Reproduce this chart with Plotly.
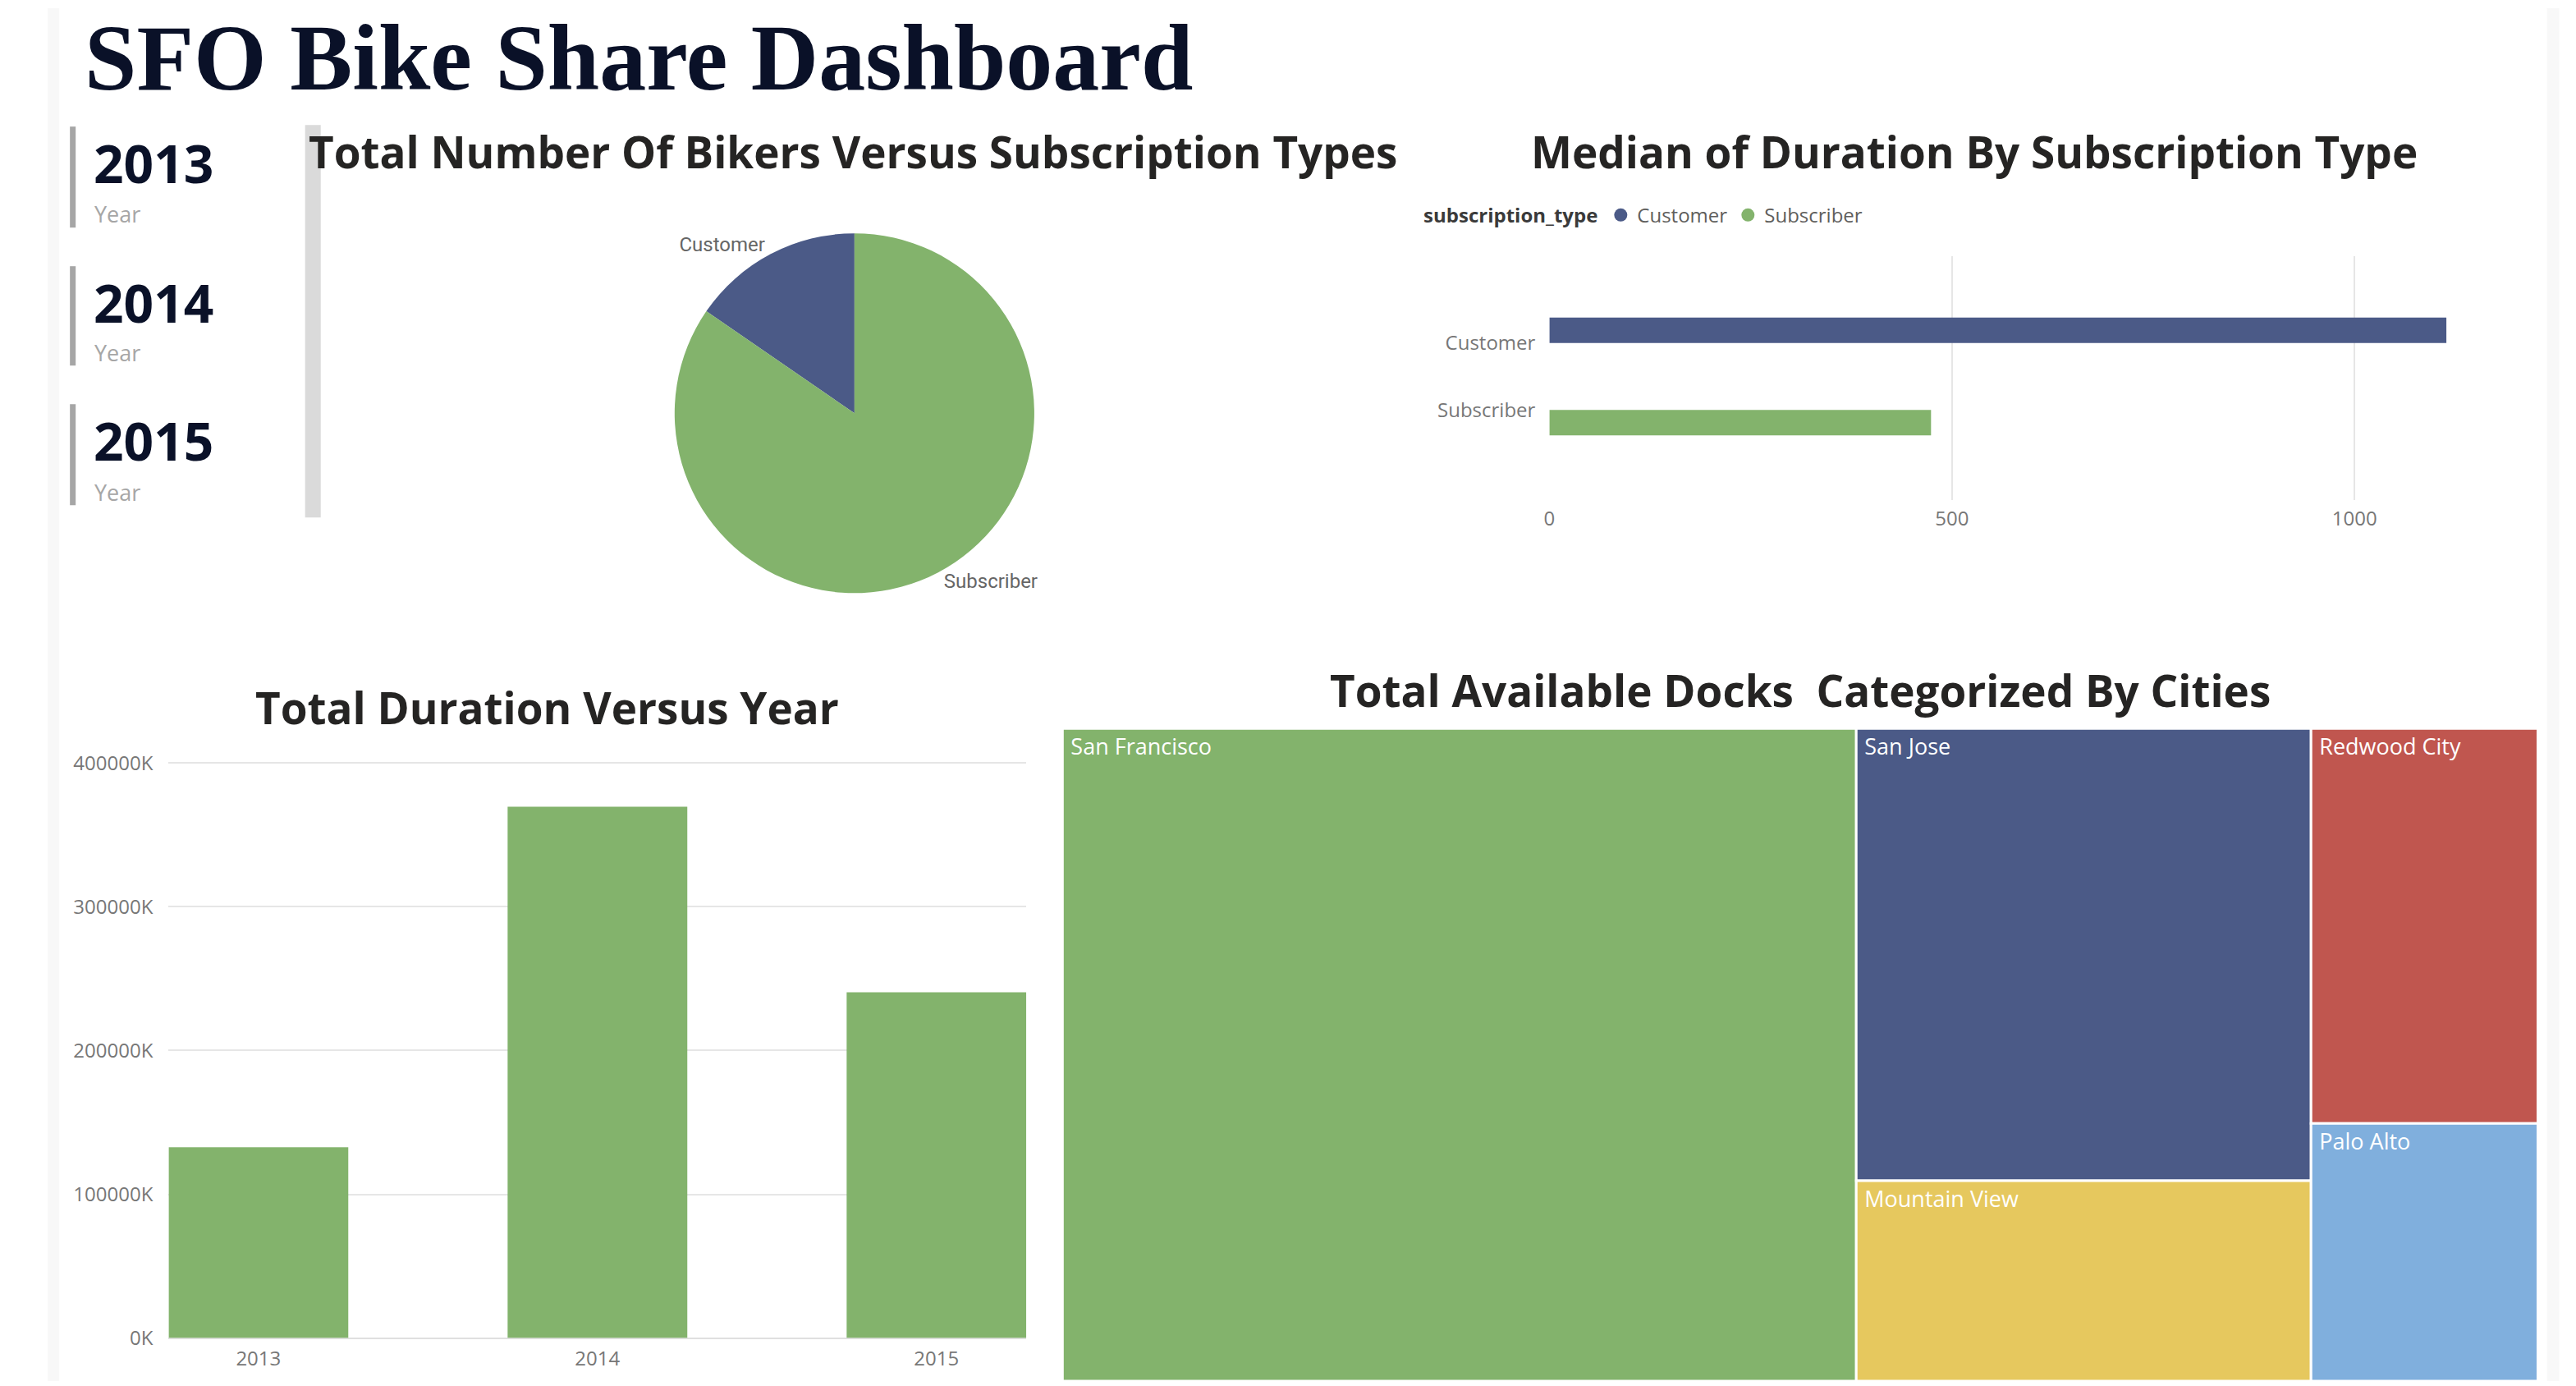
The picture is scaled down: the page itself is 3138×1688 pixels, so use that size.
import plotly.graph_objects as go

W, H = 3138, 1688          # browser window
OFF = 8                    # default body margin of the generated page
SX, SY = 0.996, 0.985      # measured capture scale of the rendered page
FW, FH = 3134, 1697        # figure size

# ---------------- data ----------------
dashboard_title = "SFO Bike Share Dashboard"
years = ["2013", "2014", "2015"]
year_caption = "Year"

sub_types = ["Customer", "Subscriber"]
bikers_count = [103213, 566746]          # total number of bikers per subscription type
median_duration = [1114, 474]            # median trip duration (s)

duration_years = ["2013", "2014", "2015"]
total_duration_k = [132650, 369700, 240600]   # total duration, in thousands
duration_ticks = [0, 100000, 200000, 300000, 400000]
duration_tick_text = ["0K", "100000K", "200000K", "300000K", "400000K"]

cities = ["San Francisco", "San Jose", "Mountain View", "Redwood City", "Palo Alto"]
docks = [665, 264, 117, 115, 75]

# ---------------- styles ----------------
type_colors = {"Customer": "#4b5a87", "Subscriber": "#83b36c"}
city_colors = ["#83b36c", "#4b5a87", "#e6c85e", "#c0564f", "#80afdd"]
TITLE_FONT = dict(family="Open Sans", size=53, color="#252423", weight="bold")
TICK_FONT = dict(family="Open Sans", size=24, color="#777777")


def fx(px):
    return min(1.0, max(0.0, (px / SX - OFF) / FW))


def fy(py):
    return min(1.0, max(0.0, 1 - (py / SY - OFF) / FH))


fig = go.Figure()

# Pie: total number of bikers (first slice ends at 12 o'clock, drawn clockwise)
first_share = bikers_count[0] / sum(bikers_count)
fig.add_trace(go.Pie(
    labels=sub_types, values=bikers_count, sort=False,
    direction="clockwise", rotation=-360 * first_share,
    marker=dict(colors=[type_colors[t] for t in sub_types], line=dict(width=0)),
    textinfo="label", textposition="outside",
    textfont=dict(family="Roboto", size=24, color="#666666"),
    domain=dict(x=[fx(700), fx(1380)], y=[fy(720), fy(282)]),
    showlegend=False, hoverinfo="label+value",
))

# Horizontal bars: median duration
for i, t in enumerate(sub_types):
    fig.add_trace(go.Bar(
        x=[median_duration[i]], y=[t], orientation="h",
        marker=dict(color=type_colors[t], line=dict(width=0)),
        width=0.38, offset=-0.38 if i == 0 else 0.0,
        xaxis="x", yaxis="y", showlegend=False, name=t,
    ))
    fig.add_trace(go.Scatter(
        x=[None], y=[None], mode="markers", name=t,
        marker=dict(symbol="circle", size=20, color=type_colors[t]),
        xaxis="x", yaxis="y", showlegend=True,
    ))

# Columns: total duration per year
fig.add_trace(go.Bar(
    x=duration_years, y=total_duration_k, width=0.53,
    marker=dict(color="#83b36c", line=dict(width=0)),
    xaxis="x2", yaxis="y2", showlegend=False,
))

# Treemap: docks per city
fig.add_trace(go.Treemap(
    labels=cities, parents=[""] * len(cities), values=docks,
    marker=dict(colors=city_colors, line=dict(color="white", width=3),
                pad=dict(t=0, l=0, r=0, b=0)),
    texttemplate="\u00a0%{label}", textposition="top left",
    textfont=dict(family="Open Sans", size=27, color="white"),
    tiling=dict(packing="squarify", squarifyratio=1.618, pad=0),
    pathbar=dict(visible=False), sort=True,
    domain=dict(x=[fx(1293), fx(3087)], y=[fy(1685), fy(885)]),
))

shapes = []
# faint page edges
shapes.append(dict(type="rect", xref="paper", yref="paper", x0=fx(59), x1=fx(73), y0=0, y1=1,
                   fillcolor="#f8f8f8", line=dict(width=0), layer="below"))
shapes.append(dict(type="rect", xref="paper", yref="paper", x0=fx(3098), x1=fx(3113), y0=0, y1=1,
                   fillcolor="#f8f8f8", line=dict(width=0), layer="below"))
# year card accent bars
for top, bot in [(152, 275), (322, 443), (490, 613)]:
    shapes.append(dict(type="rect", xref="paper", yref="paper", x0=fx(86), x1=fx(93),
                       y0=fy(bot), y1=fy(top), fillcolor="#a6a6a6", line=dict(width=0)))
# slicer scroll bar
shapes.append(dict(type="rect", xref="paper", yref="paper", x0=fx(372), x1=fx(391),
                   y0=fy(628), y1=fy(150), fillcolor="#dadada", line=dict(width=0)))

annotations = []
annotations.append(dict(text=dashboard_title, xref="paper", yref="paper", x=fx(102), y=fy(68),
                        xanchor="left", yanchor="middle", showarrow=False,
                        font=dict(family="Liberation Serif", size=114, color="#0a1128", weight="bold")))
for yr, ctr, cap in zip(years, [196, 366, 534], [258, 427, 597]):
    annotations.append(dict(text=yr, xref="paper", yref="paper", x=fx(113), y=fy(ctr),
                            xanchor="left", yanchor="middle", showarrow=False,
                            font=dict(family="Open Sans", size=64, color="#0a1128", weight="bold")))
    annotations.append(dict(text=year_caption, xref="paper", yref="paper", x=fx(114), y=fy(cap),
                            xanchor="left", yanchor="middle", showarrow=False,
                            font=dict(family="Open Sans", size=27, color="#a6a6a6")))
annotations.append(dict(text="Total Number Of Bikers Versus Subscription Types", xref="paper", yref="paper",
                        x=fx(374), y=fy(182), xanchor="left", yanchor="middle", showarrow=False, font=TITLE_FONT))
annotations.append(dict(text="Median of Duration By Subscription Type", xref="paper", yref="paper",
                        x=fx(1861), y=fy(182), xanchor="left", yanchor="middle", showarrow=False, font=TITLE_FONT))
annotations.append(dict(text="Total Duration Versus Year", xref="paper", yref="paper",
                        x=fx(666), y=fy(859), xanchor="center", yanchor="middle", showarrow=False, font=TITLE_FONT))
annotations.append(dict(text="Total Available Docks \u00a0Categorized By Cities", xref="paper", yref="paper",
                        x=fx(2190), y=fy(838), xanchor="center", yanchor="middle", showarrow=False, font=TITLE_FONT))

fig.update_layout(
    width=FW, height=FH, autosize=False,
    margin=dict(l=0, r=0, t=0, b=0),
    paper_bgcolor="white", plot_bgcolor="white",
    barmode="overlay",
    shapes=shapes, annotations=annotations,
    showlegend=True,
    legend=dict(orientation="h", x=fx(1730), y=fy(260), xanchor="left", yanchor="middle",
                title=dict(text="subscription_type",
                           font=dict(family="Open Sans", size=24, color="#3a3a3a", weight="bold")),
                font=dict(family="Open Sans", size=24, color="#605e5c"),
                itemwidth=30, bgcolor="rgba(0,0,0,0)"),
    xaxis=dict(domain=[fx(1885), fx(3060)], range=[0, 1200], tickvals=[0, 500, 1000],
               showgrid=True, gridcolor="#e6e6e6", gridwidth=2, zeroline=False, showline=False,
               tickfont=TICK_FONT, ticklabelstandoff=6, anchor="y", fixedrange=True),
    yaxis=dict(domain=[fy(607), fy(310)], type="category", categoryarray=sub_types,
               categoryorder="array", range=[2.35, -1.295], showgrid=False, zeroline=False,
               showline=False, tickfont=TICK_FONT, ticklabelstandoff=16, anchor="x", fixedrange=True),
    xaxis2=dict(domain=[fx(206), fx(1249)], type="category", range=[-0.265, 2.265],
                showgrid=False, zeroline=False, showline=False, tickfont=TICK_FONT,
                ticklabelstandoff=8, anchor="y2", fixedrange=True),
    yaxis2=dict(domain=[fy(1627), fy(920)], range=[0, 404000], tickvals=duration_ticks,
                ticktext=duration_tick_text, showgrid=True, gridcolor="#e6e6e6", gridwidth=2,
                zeroline=True, zerolinecolor="#e0e0e0", zerolinewidth=2, showline=False,
                tickfont=TICK_FONT, ticklabelstandoff=18, anchor="x2", fixedrange=True),
)

fig.write_html("out.html")
